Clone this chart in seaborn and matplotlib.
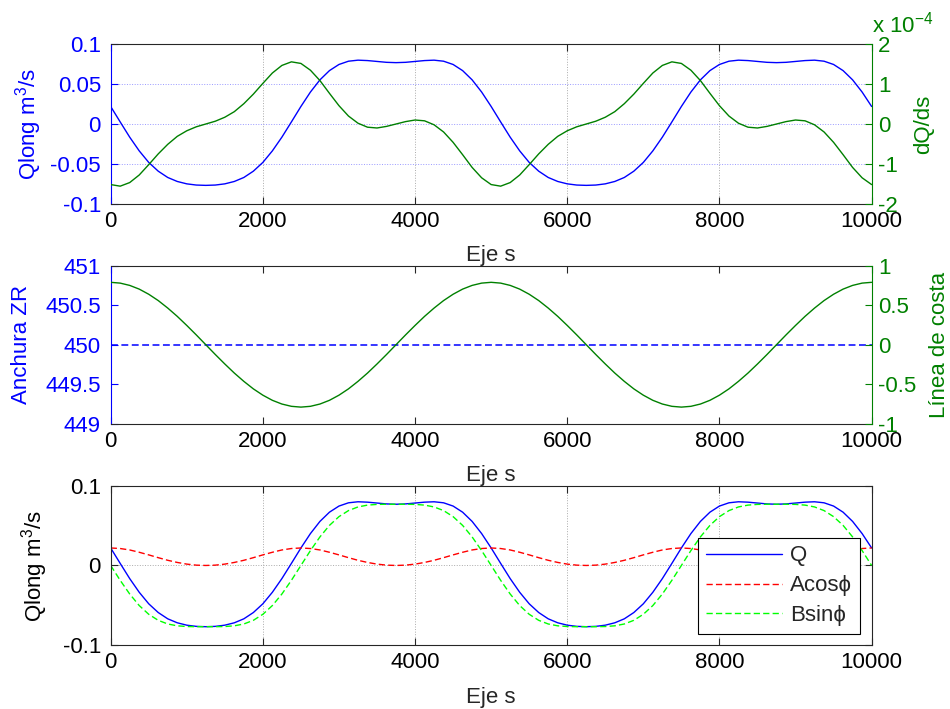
import numpy as np
import pandas as pd
import matplotlib
matplotlib.use('Agg')
import matplotlib.pyplot as plt
from matplotlib.ticker import FuncFormatter
import seaborn as sns

#------------------------------------------------------------------------------------
# datos (eje s cada 125 m)
s = np.arange(0, 10001, 125)

q_long = [0.022, 0.0026, -0.0165, -0.0337, -0.0482, -0.0592, -0.0671, -0.0721, -0.0751, -0.0766,
          -0.077, -0.0766, -0.0751, -0.0721, -0.0671, -0.0592, -0.0482, -0.0337, -0.0165, 0.0026,
          0.022, 0.0401, 0.0554, 0.0670, 0.0747, 0.0788, 0.0801, 0.0796, 0.0785, 0.0774,
          0.077, 0.0774, 0.0785, 0.0796, 0.0801, 0.0788, 0.0747, 0.0670, 0.0554, 0.0401,
          0.022, 0.0026, -0.0165, -0.0337, -0.0482, -0.0592, -0.0671, -0.0721, -0.0751, -0.0766,
          -0.077, -0.0766, -0.0751, -0.0721, -0.0671, -0.0592, -0.0482, -0.0337, -0.0165, 0.0026,
          0.022, 0.0401, 0.0554, 0.0670, 0.0747, 0.0788, 0.0801, 0.0796, 0.0785, 0.0774,
          0.077, 0.0774, 0.0785, 0.0796, 0.0801, 0.0788, 0.0747, 0.0670, 0.0554, 0.0401,
          0.022]

# dQ/ds en unidades de 1e-4
dq_ds = [-1.52, -1.56, -1.47, -1.28, -1.02, -0.75, -0.51, -0.31, -0.17, -0.07,
         0.0, 0.07, 0.17, 0.31, 0.51, 0.75, 1.02, 1.28, 1.47, 1.56,
         1.52, 1.35, 1.09, 0.77, 0.46, 0.20, 0.02, -0.08, -0.10, -0.06,
         0.0, 0.06, 0.10, 0.08, -0.02, -0.20, -0.46, -0.77, -1.09, -1.35,
         -1.52, -1.56, -1.47, -1.28, -1.02, -0.75, -0.51, -0.31, -0.17, -0.07,
         0.0, 0.07, 0.17, 0.31, 0.51, 0.75, 1.02, 1.28, 1.47, 1.56,
         1.52, 1.35, 1.09, 0.77, 0.46, 0.20, 0.02, -0.08, -0.10, -0.06,
         0.0, 0.06, 0.10, 0.08, -0.02, -0.20, -0.46, -0.77, -1.09, -1.35,
         -1.52]

linea_costa = [0.79, 0.780, 0.751, 0.704, 0.639, 0.559, 0.464, 0.359, 0.244, 0.124,
               0.0, -0.124, -0.244, -0.359, -0.464, -0.559, -0.639, -0.704, -0.751, -0.780,
               -0.79, -0.780, -0.751, -0.704, -0.639, -0.559, -0.464, -0.359, -0.244, -0.124,
               0.0, 0.124, 0.244, 0.359, 0.464, 0.559, 0.639, 0.704, 0.751, 0.780,
               0.79, 0.780, 0.751, 0.704, 0.639, 0.559, 0.464, 0.359, 0.244, 0.124,
               0.0, -0.124, -0.244, -0.359, -0.464, -0.559, -0.639, -0.704, -0.751, -0.780,
               -0.79, -0.780, -0.751, -0.704, -0.639, -0.559, -0.464, -0.359, -0.244, -0.124,
               0.0, 0.124, 0.244, 0.359, 0.464, 0.559, 0.639, 0.704, 0.751, 0.780,
               0.79]

anchura_zr = [450.0] * len(s)

a_cos = [0.022, 0.0213, 0.0195, 0.0166, 0.0133, 0.0098, 0.0065, 0.0038, 0.0017, 0.0004,
         0.0, 0.0004, 0.0017, 0.0038, 0.0065, 0.0098, 0.0133, 0.0166, 0.0195, 0.0213,
         0.022, 0.0213, 0.0195, 0.0166, 0.0133, 0.0098, 0.0065, 0.0038, 0.0017, 0.0004,
         0.0, 0.0004, 0.0017, 0.0038, 0.0065, 0.0098, 0.0133, 0.0166, 0.0195, 0.0213,
         0.022, 0.0213, 0.0195, 0.0166, 0.0133, 0.0098, 0.0065, 0.0038, 0.0017, 0.0004,
         0.0, 0.0004, 0.0017, 0.0038, 0.0065, 0.0098, 0.0133, 0.0166, 0.0195, 0.0213,
         0.022, 0.0213, 0.0195, 0.0166, 0.0133, 0.0098, 0.0065, 0.0038, 0.0017, 0.0004,
         0.0, 0.0004, 0.0017, 0.0038, 0.0065, 0.0098, 0.0133, 0.0166, 0.0195, 0.0213,
         0.022]

b_sin = [0.0, -0.0187, -0.0359, -0.0504, -0.0614, -0.0690, -0.0736, -0.0759, -0.0768, -0.0770,
         -0.077, -0.0770, -0.0768, -0.0759, -0.0736, -0.0690, -0.0614, -0.0504, -0.0359, -0.0187,
         0.0, 0.0187, 0.0359, 0.0504, 0.0614, 0.0690, 0.0736, 0.0759, 0.0768, 0.0770,
         0.077, 0.0770, 0.0768, 0.0759, 0.0736, 0.0690, 0.0614, 0.0504, 0.0359, 0.0187,
         0.0, -0.0187, -0.0359, -0.0504, -0.0614, -0.0690, -0.0736, -0.0759, -0.0768, -0.0770,
         -0.077, -0.0770, -0.0768, -0.0759, -0.0736, -0.0690, -0.0614, -0.0504, -0.0359, -0.0187,
         0.0, 0.0187, 0.0359, 0.0504, 0.0614, 0.0690, 0.0736, 0.0759, 0.0768, 0.0770,
         0.077, 0.0770, 0.0768, 0.0759, 0.0736, 0.0690, 0.0614, 0.0504, 0.0359, 0.0187,
         0.0]

x_ticks = [0, 2000, 4000, 6000, 8000, 10000]

df = pd.DataFrame({'s': s, 'Q': q_long, 'dQ': dq_ds, 'costa': linea_costa,
                   'ZR': anchura_zr, 'Acos': a_cos, 'Bsin': b_sin})

#------------------------------------------------------------------------------------
# estilo
sns.set_style('white')
plt.rcParams['font.family'] = ['Liberation Sans', 'DejaVu Sans']
plt.rcParams['mathtext.fontset'] = 'custom'
plt.rcParams['mathtext.rm'] = 'Liberation Sans'
plt.rcParams['mathtext.it'] = 'Liberation Sans'
plt.rcParams['mathtext.default'] = 'regular'
plt.rcParams['font.size'] = 16

BLUE = '#0000ff'
GREEN = '#008000'
RED = '#ff0000'
LIME = '#00ff00'
DARK = '#262626'
FS = 16
DASH = (0, (4.5, 2.3))
fmt = FuncFormatter(lambda v, p: '%g' % v)

fig = plt.figure(figsize=(9.5, 7.09), dpi=100)
ax1 = fig.add_axes([0.1165, 0.7127, 0.801, 0.2248])
ax2 = fig.add_axes([0.1165, 0.4024, 0.801, 0.2228])
ax3 = fig.add_axes([0.1165, 0.0903, 0.801, 0.2243])


def base_axis(ax, left_color):
    ax.set_xlim(0, 10000)
    ax.set_xticks(x_ticks)
    ax.xaxis.set_major_formatter(fmt)
    ax.yaxis.set_major_formatter(fmt)
    ax.tick_params(axis='x', direction='in', length=5, width=0.8, top=True, bottom=True,
                   color=DARK, labelcolor='black', labelsize=FS, pad=5.3)
    ax.tick_params(axis='y', direction='in', length=5, width=0.8, left=True,
                   color=left_color, labelcolor=left_color, labelsize=FS, pad=7)
    for sp in ['top', 'bottom']:
        ax.spines[sp].set_color(DARK)
        ax.spines[sp].set_linewidth(0.8)
    ax.spines['left'].set_color(left_color)
    ax.spines['left'].set_linewidth(0.8)
    ax.set_xlabel('Eje s', fontsize=FS)
    ax.xaxis.set_label_coords(0.5, -0.262)


def right_axis(ax):
    axr = ax.twinx()
    axr.set_xlim(0, 10000)
    axr.tick_params(axis='x', which='both', bottom=False, top=False, labelbottom=False, labeltop=False)
    axr.tick_params(axis='y', direction='in', length=5, width=0.8, right=True, left=False,
                    color=GREEN, labelcolor=GREEN, labelsize=FS, pad=4.5)
    axr.yaxis.set_major_formatter(fmt)
    for sp in ['top', 'bottom', 'left']:
        axr.spines[sp].set_visible(False)
    axr.spines['right'].set_color(GREEN)
    axr.spines['right'].set_linewidth(0.8)
    ax.spines['right'].set_visible(False)
    ax.tick_params(axis='y', right=False)
    return axr

#------------------------------------------------------------------------------------
# panel superior: Qlong y dQ/ds
sns.lineplot(data=df, x='s', y='Q', ax=ax1, color=BLUE, lw=1.0)
base_axis(ax1, BLUE)
ax1.set_ylim(-0.1, 0.1)
ax1.set_yticks([-0.1, -0.05, 0, 0.05, 0.1])
ax1.set_ylabel('Qlong m$^3$/s', color=BLUE, fontsize=FS)
ax1.yaxis.set_label_coords(-0.088, 0.5)
ax1.grid(True, axis='x', linestyle=':', color='#aaaaaa', lw=0.7)
ax1.grid(True, axis='y', linestyle=':', color='#9999ff', lw=0.7)

ax1r = right_axis(ax1)
sns.lineplot(data=df, x='s', y='dQ', ax=ax1r, color=GREEN, lw=1.0)
ax1r.set_xlabel('')
ax1r.set_ylim(-2, 2)
ax1r.set_yticks([-2, -1, 0, 1, 2])
ax1r.set_ylabel('dQ/ds', color=GREEN, fontsize=FS)
ax1r.yaxis.set_label_coords(1.054, 0.5)
ax1r.text(1.0005, 1.075, 'x 10$^{-4}$', transform=ax1r.transAxes, color=GREEN,
          fontsize=FS, ha='left', va='baseline')

#------------------------------------------------------------------------------------
# panel central: anchura ZR y linea de costa
sns.lineplot(data=df, x='s', y='ZR', ax=ax2, color=BLUE, lw=1.1, linestyle=DASH)
base_axis(ax2, BLUE)
ax2.set_ylim(449, 451)
ax2.set_yticks([449, 449.5, 450, 450.5, 451])
ax2.set_ylabel('Anchura ZR', color=BLUE, fontsize=FS)
ax2.yaxis.set_label_coords(-0.103, 0.5)

ax2r = right_axis(ax2)
sns.lineplot(data=df, x='s', y='costa', ax=ax2r, color=GREEN, lw=1.0)
ax2r.set_xlabel('')
ax2r.set_ylim(-1, 1)
ax2r.set_yticks([-1, -0.5, 0, 0.5, 1])
ax2r.set_ylabel('Línea de costa', color=GREEN, fontsize=FS)
ax2r.yaxis.set_label_coords(1.076, 0.5)

#------------------------------------------------------------------------------------
# panel inferior: descomposicion de Q
sns.lineplot(data=df, x='s', y='Q', ax=ax3, color=BLUE, lw=1.0, label='Q')
sns.lineplot(data=df, x='s', y='Acos', ax=ax3, color=RED, lw=1.0, linestyle=DASH, label='Acosϕ')
sns.lineplot(data=df, x='s', y='Bsin', ax=ax3, color=LIME, lw=1.0, linestyle=DASH, label='Bsinϕ')
base_axis(ax3, DARK)
ax3.tick_params(axis='y', right=True, labelcolor='black')
ax3.spines['right'].set_color(DARK)
ax3.spines['right'].set_linewidth(0.8)
ax3.set_ylim(-0.1, 0.1)
ax3.set_yticks([-0.1, 0, 0.1])
ax3.set_ylabel('Qlong m$^3$/s', color='black', fontsize=FS)
ax3.yaxis.set_label_coords(-0.080, 0.5)
ax3.grid(True, linestyle=':', color='#aaaaaa', lw=0.7)
ax3.legend(loc='lower right', bbox_to_anchor=(0.985, 0.069), borderaxespad=0, frameon=True,
           fancybox=False, edgecolor='black', framealpha=1, handlelength=3.4,
           handletextpad=0.4, fontsize=FS, labelspacing=0.4, borderpad=0.35)
ax3.get_legend().get_frame().set_linewidth(0.8)

fig.savefig('out.png', dpi=100)
